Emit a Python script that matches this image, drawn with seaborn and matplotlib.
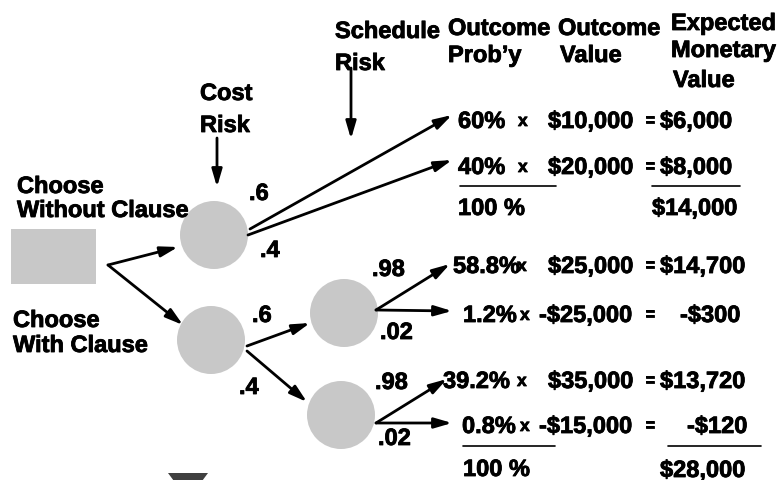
import matplotlib
matplotlib.use("Agg")
import matplotlib.pyplot as plt
import matplotlib.patheffects as pe
import seaborn as sns
from matplotlib.patches import Circle, Rectangle, Polygon

# decision tree data
branch_probs = [".6", ".4", ".6", ".4", ".98", ".02", ".98", ".02"]
outcome_probs = ["60%", "40%", "58.8%", "1.2%", "39.2%", "0.8%"]
outcome_values = ["$10,000", "$20,000", "$25,000", "-$25,000", "$35,000", "-$15,000"]
emv_values = ["$6,000", "$8,000", "$14,700", "-$300", "$13,720", "-$120"]
totals_prob = ["100 %", "100 %"]
totals_emv = ["$14,000", "$28,000"]

# layout (pixel space)
row_y = [128, 174, 273, 322, 388, 433]
prob_x = [458, 458, 453, 463, 443, 462]
val_x = [548, 548, 548, 539, 548, 539]
emv_x = [660, 660, 660, 680, 660, 687]
x_x = [518, 518, 517, 520, 517, 520]

GREY = "#c8c8c8"
FS = 17

sns.set_theme(style="white")
plt.rcParams["font.family"] = ["Liberation Sans", "DejaVu Sans"]

fig = plt.figure(figsize=(7.78, 4.8), dpi=100)
ax = fig.add_axes([0, 0, 1, 1])
ax.set_xlim(0, 778)
ax.set_ylim(480, 0)
ax.axis("off")

# nodes
ax.add_patch(Rectangle((11, 229), 85, 55, color=GREY, lw=0))
for cx, cy in [(214, 235), (211, 340), (344, 313), (341, 415)]:
    ax.add_patch(Circle((cx, cy), 34, color=GREY, lw=0))
ax.add_patch(Polygon([(168, 473), (208, 473), (188, 500)], color="#404040", lw=0))


def arrow(x0, y0, x1, y1):
    ax.annotate("", xy=(x1, y1), xytext=(x0, y0),
                arrowprops=dict(arrowstyle="-|>,head_length=0.75,head_width=0.22",
                                color="black", lw=2, shrinkA=0, shrinkB=0,
                                mutation_scale=14))


# branches
arrow(108, 265, 178, 247)
arrow(108, 265, 183, 325)
arrow(250, 229, 452, 115)
arrow(248, 235, 452, 160)
arrow(247, 346, 310, 323)
arrow(247, 351, 307, 402)
arrow(376, 310, 450, 264)
arrow(376, 310, 452, 311)
arrow(376, 423, 447, 379)
arrow(376, 423, 452, 423)
# header pointers
arrow(217, 138, 217, 187)
arrow(351, 68, 351, 139)

heavy = [pe.withStroke(linewidth=0.6, foreground="black")]


def txt(x, y, s, size=FS):
    ax.text(x, y, s, fontsize=size, fontweight="bold", ha="left", va="baseline",
            color="black", path_effects=heavy)


# headers
txt(335, 38, "Schedule")
txt(335, 70, "Risk")
txt(200, 100, "Cost")
txt(200, 132, "Risk")
txt(448, 35, "Outcome")
txt(448, 62, "Prob\u2019y")
txt(558, 35, "Outcome")
txt(560, 62, "Value")
txt(671, 30, "Expected")
txt(671, 57, "Monetary")
txt(673, 87, "Value")
txt(17, 193, "Choose")
txt(17, 217, "Without Clause")
txt(13, 327, "Choose")
txt(13, 352, "With Clause")

# branch probabilities
bp_pos = [(249, 200), (260, 257), (252, 322), (239, 394),
          (372, 276), (380, 339), (375, 389), (378, 445)]
for (bx, by), s in zip(bp_pos, branch_probs):
    txt(bx, by, s)

# outcome rows
for i in range(len(outcome_probs)):
    y = row_y[i]
    txt(prob_x[i], y, outcome_probs[i])
    txt(x_x[i], y - 2, "x", size=12.5)
    txt(val_x[i], y, outcome_values[i])
    txt(645, y - 3, "=", size=12.5)
    txt(emv_x[i], y, emv_values[i])

# totals
ax.plot([460, 556], [186, 186], color="black", lw=1.2)
ax.plot([652, 740], [186, 186], color="black", lw=1.2)
ax.plot([463, 555], [446, 446], color="black", lw=1.2)
ax.plot([668, 761], [446, 446], color="black", lw=1.2)
txt(458, 215, totals_prob[0])
txt(652, 215, totals_emv[0])
txt(463, 476, totals_prob[1])
txt(660, 477, totals_emv[1])

fig.savefig("out.png", dpi=100)
